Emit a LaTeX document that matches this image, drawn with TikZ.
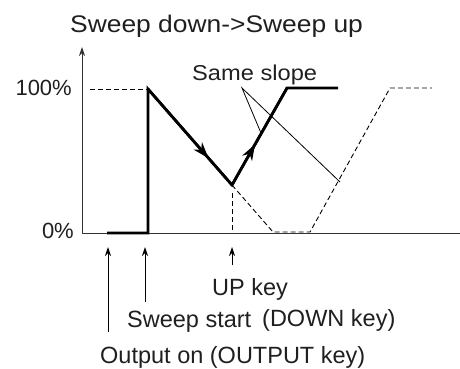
\documentclass[tikz,border=0pt]{standalone}
\usepackage{fontspec}
\setmainfont{Liberation Sans}
\newfontfamily\widesans[FakeStretch=1.1]{Liberation Sans}
\usetikzlibrary{arrows.meta,decorations.markings}

\begin{document}
\begin{tikzpicture}[x=1pt,y=-1pt,
  lbl/.style={inner sep=0pt, text=black!88},
  axisline/.style={line width=1pt, draw=black!80},
  sweep/.style={line width=2.7pt, line join=miter},
  guide/.style={line width=0.9pt, dash pattern=on 5pt off 3pt},
  leader/.style={line width=0.8pt},
  pointer/.style={line width=1pt, -{Stealth[length=9pt,width=6pt]}},
  midarrow/.style={postaction={decorate}, decoration={markings,
      mark=at position #1 with {\arrow{Stealth[length=16pt,width=11pt,inset=5pt]}}}}
]
\useasboundingbox (0,0) rectangle (460,369);

% axes
\coordinate (o) at (82,233);
\coordinate (ytip) at (82,47);
\coordinate (xend) at (460,233);
\draw[axisline, -{Stealth[length=9pt,width=6pt]}] (o) -- (ytip);
\draw[axisline] (o) -- (xend);

% output level: actual sweep (down, then up)
\coordinate (a) at (107,233);
\coordinate (b) at (148,233);
\coordinate (c) at (148,89);
\coordinate (d) at (232,185);
\coordinate (e) at (287,88);
\coordinate (f) at (338,88);
% sweep that would have continued downward
\coordinate (g) at (273,232);
\coordinate (h) at (310,232);
\coordinate (i) at (390,88);
\coordinate (j) at (432,88);
\coordinate (full) at (90,89);
\coordinate (dfoot) at (232,233);

\draw[guide] (full) -- (c);
\draw[guide] (d) -- (g) -- (h) -- (i) -- (j);
\draw[guide] (d) ++(0,8) -- (dfoot);

\draw[sweep] (a) -- (b) -- (c) -- (d) -- (e) -- (f);
\draw[sweep, midarrow=0.72] (c) -- (d);
\draw[sweep, midarrow=0.42] (d) -- (e);

% "Same slope" leaders
\coordinate (apex) at (242,88);
\coordinate (s1) at (261,133);
\coordinate (s2) at (340,182);
\draw[leader] (s1) -- (apex) -- (s2);

% labels
\node[lbl, anchor=base west, font=\widesans\fontsize{24}{28}\selectfont] (title) at (70,33) {Sweep down->Sweep up};
\node[lbl, anchor=base west, font=\widesans\fontsize{21.5}{26}\selectfont] (same) at (192,80) {Same slope};
\node[lbl, anchor=base east, font=\fontsize{22}{26}\selectfont] (hundred) at (72,95) {100\%};
\node[lbl, anchor=base east, font=\fontsize{22}{26}\selectfont] (zero) at (74,238) {0\%};

\node[lbl, anchor=base west, font=\fontsize{23.5}{28}\selectfont] (upkey) at (212,295) {UP key};
\node[lbl, anchor=base west, font=\fontsize{23.5}{28}\selectfont] (start) at (127,327) {Sweep start};
\node[lbl, anchor=base west, font=\fontsize{23.5}{28}\selectfont] (downkey) at (262,326) {(DOWN key)};
\node[lbl, anchor=base west, font=\fontsize{23.5}{28}\selectfont] (outon) at (100,363) {Output on (OUTPUT key)};

% event pointers
\coordinate (on0) at (108,332);
\coordinate (on1) at (108,247);
\coordinate (st0) at (145,302);
\coordinate (st1) at (145,247);
\coordinate (up0) at (232,265);
\coordinate (up1) at (232,247);
\draw[pointer] (on0) -- (on1);
\draw[pointer] (st0) -- (st1);
\draw[pointer] (up0) -- (up1);
\end{tikzpicture}
\end{document}
